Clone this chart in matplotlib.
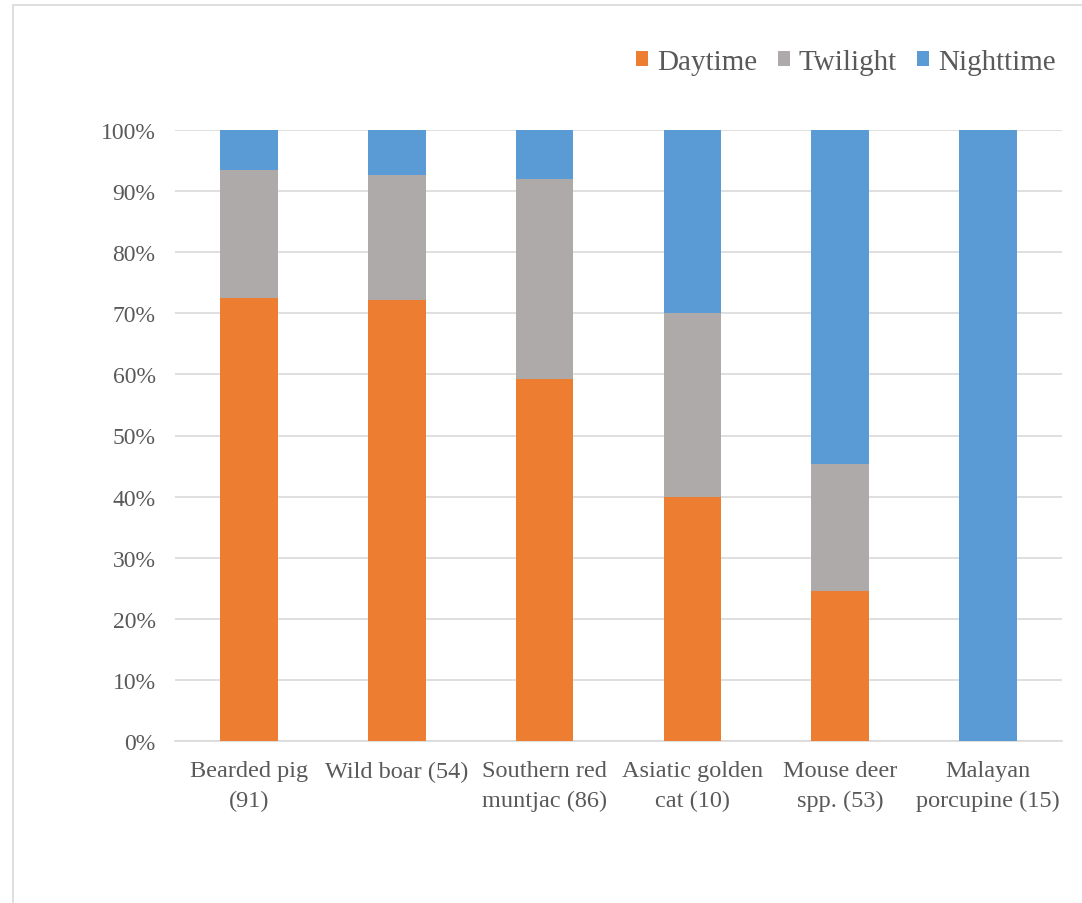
import numpy as np
import matplotlib.pyplot as plt
import matplotlib.ticker as mticker
from matplotlib.patches import Rectangle
#------------------------------------------------------------

species = ["Bearded pig\n(91)", "Wild boar (54)", "Southern red\nmuntjac (86)",
           "Asiatic golden\ncat (10)", "Mouse deer\nspp. (53)", "Malayan\nporcupine (15)"]
daytime   = [72.5, 72.2, 59.3, 40.0, 24.5, 0.0]
twilight  = [20.9, 20.4, 32.6, 30.0, 20.8, 0.0]
nighttime = [ 6.6,  7.4,  8.1, 30.0, 54.7, 100.0]
series_names = ["Daytime", "Twilight", "Nighttime"]
colours = ["#ED7D31", "#AEAAAA", "#5B9BD5"]
txtcol = "#595959"

plt.rcParams['font.family'] = ['Liberation Serif', 'DejaVu Serif']

fig = plt.figure(figsize=(10.82, 9.04), dpi=100)
# thin grey frame round the chart area
fig.patches.append(Rectangle((13/1082, -0.01), 1.02, 1 - 6/904 + 0.01,
                             transform=fig.transFigure, fill=False,
                             edgecolor="#D9D9D9", linewidth=1.2))

ax = fig.add_axes([175/1082, 1 - 742/904, 887/1082, 611/904])
x = np.arange(len(species))
bottom = np.zeros(len(species))
for vals, name, col in zip([daytime, twilight, nighttime], series_names, colours):
    ax.bar(x, vals, width=0.39, bottom=bottom, color=col, label=name, zorder=3)
    bottom += np.array(vals)

ax.set_xlim(-0.5, len(species) - 0.5)
ax.set_ylim(0, 100)
ax.yaxis.set_major_locator(mticker.MultipleLocator(10))
ax.yaxis.set_major_formatter(mticker.FuncFormatter(lambda v, p: f"{v:.0f}%"))
ax.grid(axis="y", color="#D9D9D9", linewidth=1.2, zorder=0)
for s in ["top", "right", "left"]:
    ax.spines[s].set_visible(False)
ax.spines["bottom"].set_color("#D9D9D9")
ax.spines["bottom"].set_linewidth(1.2)
ax.tick_params(length=0)
ax.tick_params(axis="y", labelsize=17, labelcolor=txtcol, pad=14)
ax.set_xticks(x)
ax.set_xticklabels(species, fontsize=17.5, color=txtcol, linespacing=1.5)
ax.tick_params(axis="x", pad=14)

leg = fig.legend(loc="upper right", bbox_to_anchor=(1082/1082, 1 - 24/904), ncol=3,
                 frameon=False, fontsize=21, handlelength=0.42, handleheight=0.42,
                 handletextpad=0.3, columnspacing=0.7, labelcolor=txtcol)

fig.savefig("out.png", dpi=100)
plt.close()
#---------------------------------------------------
